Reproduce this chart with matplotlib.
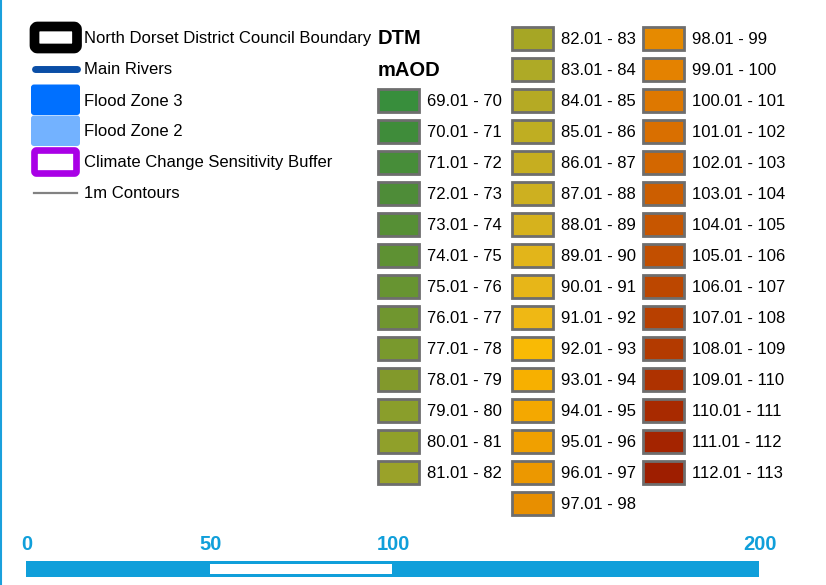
import matplotlib
matplotlib.use("Agg")
import matplotlib.pyplot as plt
from matplotlib.patches import Rectangle, FancyBboxPatch

plt.rcParams["font.family"] = ["Liberation Sans", "DejaVu Sans"]

# legend items (left block)
layer_labels = [
    "North Dorset District Council Boundary",
    "Main Rivers",
    "Flood Zone 3",
    "Flood Zone 2",
    "Climate Change Sensitivity Buffer",
    "1m Contours",
]

# DTM classes (mAOD), lower bound of each 1 m band
dtm_lower = list(range(69, 113))
dtm_colors = [
    "#388e3c", "#3f8c3a", "#478d39", "#4e8c38", "#568f35", "#5e9133", "#679431",
    "#70962f", "#79992d", "#82992b", "#8a9e2b", "#90a02a", "#9aa229",
    "#a6a625", "#aeaa26", "#b5aa24", "#bfae22", "#c6ae20", "#cdb020", "#d6b21d",
    "#e2b51a", "#e7b618", "#efb814", "#f9ba05", "#f7b000", "#f4a800", "#f0a000",
    "#ec9800", "#e88f00",
    "#e68a00", "#e48200", "#de7800", "#d96f00", "#d36700", "#cc5e00", "#c75600",
    "#c24f00", "#bc4700", "#b84000", "#b33a00", "#ae3200", "#a82a00", "#a42400",
    "#9e1e00",
]
dtm_labels = [f"{v}.01 - {v + 1}" for v in dtm_lower]

# column layout of the DTM legend: (first class index, count, start row)
dtm_columns = [(0, 13, 2), (13, 16, 0), (29, 15, 0)]

scale_ticks = [0, 50, 100, 200]

W, H = 826, 585
fig = plt.figure(figsize=(W / 100, H / 100), dpi=100)
ax = fig.add_axes([0, 0, 1, 1])
ax.set_xlim(0, W)
ax.set_ylim(H, 0)
ax.axis("off")

row0 = 38
dy = 31
txt = dict(fontsize=12, va="center", ha="left", color="black")

# left border line
ax.plot([1, 1], [0, H], color="#1aa0dc", lw=1.5)

# ---- layer legend
ys = [row0 + i * dy for i in range(len(layer_labels))]
# boundary
ax.add_patch(FancyBboxPatch((34.5, ys[0] - 11.5), 42.5, 22, boxstyle="round,pad=0,rounding_size=3",
                            fc="white", ec="black", lw=7, joinstyle="round"))
# river
ax.plot([34.5, 77], [ys[1], ys[1]], color="#0a4ea6", lw=5, solid_capstyle="round")
# flood zones
ax.add_patch(FancyBboxPatch((31, ys[2] - 15.5), 49, 30.5, boxstyle="round,pad=0,rounding_size=3",
                            fc="#0070ff", ec="none"))
ax.add_patch(FancyBboxPatch((31, ys[3] - 15.5), 49, 30.5, boxstyle="round,pad=0,rounding_size=3",
                            fc="#73b2ff", ec="none"))
# buffer
ax.add_patch(FancyBboxPatch((34.5, ys[4] - 11.5), 42, 23, boxstyle="round,pad=0,rounding_size=2",
                            fc="white", ec="#a900e6", lw=4.8, joinstyle="round"))
# contours
ax.plot([34, 77], [ys[5], ys[5]], color="#828282", lw=1.6)

for y, lab in zip(ys, layer_labels):
    ax.text(84, y + 1, lab, **txt)

# ---- DTM legend
ax.text(378, row0 + 1, "DTM", fontsize=14.5, fontweight="bold", va="center")
ax.text(378, row0 + dy + 1, "mAOD", fontsize=14.5, fontweight="bold", va="center")

col_x = [377, 511, 642]
for cx, (start, n, r0) in zip(col_x, dtm_columns):
    for k in range(n):
        i = start + k
        y = row0 + (r0 + k) * dy
        ax.add_patch(Rectangle((cx + 1, y - 11.5), 41, 23, fc=dtm_colors[i],
                               ec="#6e6e6e", lw=2))
        ax.text(cx + 50, y + 1.5, dtm_labels[i], **txt)

# ---- scale bar
x0, x1 = 26, 759
unit = (x1 - x0) / scale_ticks[-1]
blue = "#109fda"
ax.add_patch(Rectangle((x0, 561), x1 - x0, 16, fc=blue, ec="none"))
ax.add_patch(Rectangle((x0 + 50 * unit + 1, 563.5), 50 * unit - 2, 10.5, fc="white", ec="none"))
for t in scale_ticks:
    ax.text(x0 + t * unit + 1, 545, str(t), fontsize=14.5, fontweight="bold",
            color=blue, ha="center", va="center")

fig.savefig("out.png", dpi=100)
